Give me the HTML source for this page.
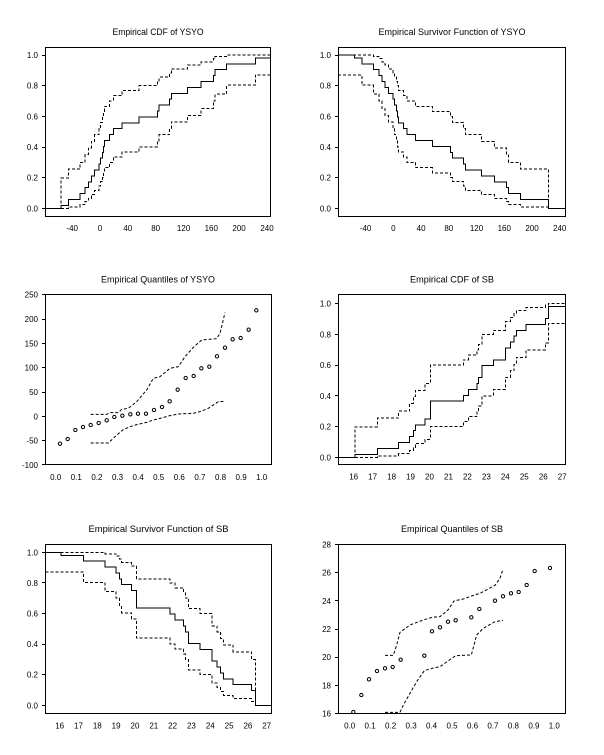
<!DOCTYPE html>
<html><head><meta charset="utf-8"><style>
html,body{margin:0;padding:0;background:#fff;}
svg{display:block;}
text{font-family:"Liberation Sans",Arial,sans-serif;fill:#000;}
.t{font-size:9px;text-anchor:middle;}
.yl{font-size:8px;text-anchor:end;}
.xl{font-size:8px;text-anchor:middle;}
.fr{fill:none;stroke:#000;stroke-width:1;shape-rendering:crispEdges;}
.tk{stroke:#000;stroke-width:1;shape-rendering:crispEdges;}
.s{fill:none;stroke:#000;stroke-width:3;shape-rendering:crispEdges;}
.d{fill:none;stroke:#000;stroke-width:3;stroke-dasharray:9 6;shape-rendering:crispEdges;}
.q{fill:none;stroke:#000;stroke-width:3;stroke-dasharray:9 6;}
.m{fill:none;stroke:#000;stroke-width:3;}
</style></head><body>
<svg width="604" height="755" viewBox="0 0 604 755" xmlns="http://www.w3.org/2000/svg">
<rect width="604" height="755" fill="#fff"/>

<!-- ============ Panel 1: Empirical CDF of YSYO ============ -->
<text class="t" x="158" y="35" textLength="91" lengthAdjust="spacingAndGlyphs">Empirical CDF of YSYO</text>
<g transform="translate(0,20) scale(0.333333)">
<path class="s" d="M137,565 H183 V556.2 H205 V538.5 H240 V520.8 H255 V503.1 H265 V485.4 H274 V467.7 H284 V450 H297 V432.3 H302 V414.6 H308 V396.9 H311 V379.2 H313 V361.5 H329 V343.8 H340 V326.2 H366 V308.5 H417 V290.8 H472 V273.1 H477 V255.4 H509 V237.7 H514 V220 H563 V202.3 H603 V184.6 H640 V166.9 H645 V149.2 H680 V131.5 H766 V113.8 H811"/>
<path class="d" d="M183,565 V474.4 H205 V447.7 H240 V427 H255 V404 H265 V383.3 H274 V364.4 H284 V344.2 H297 V325.8 H302 V307.4 H308 V289 H311 V273.8 H313 V259.1 H329 V243 H340 V226.9 H366 V211.7 H417 V197 H472 V185 H477 V171.7 H509 V158.8 H514 V146.4 H563 V134.9 H603 V125.7 H640 V116 H645 V109.6 H680 V105 H811"/>
<path class="d" d="M183,565 H205 V560.4 H240 V554 H255 V544.3 H265 V535.1 H274 V523.6 H284 V511.2 H297 V498.3 H302 V485 H308 V473 H311 V458.3 H313 V443.1 H329 V427 H340 V410.9 H366 V396.2 H417 V381 H472 V362.6 H477 V344.2 H509 V325.8 H514 V305.6 H563 V286.7 H603 V266 H640 V243 H645 V222.3 H680 V195.6 H766 V164.8 H811"/>
</g>
<rect class="fr" x="45.5" y="47.5" width="225" height="169"/>
<g class="tk">
<line x1="42" y1="208.5" x2="45.5" y2="208.5"/><line x1="42" y1="177.5" x2="45.5" y2="177.5"/><line x1="42" y1="147.5" x2="45.5" y2="147.5"/><line x1="42" y1="116.5" x2="45.5" y2="116.5"/><line x1="42" y1="85.5" x2="45.5" y2="85.5"/><line x1="42" y1="55.5" x2="45.5" y2="55.5"/>
</g>
<text class="yl" x="38" y="211.5">0.0</text><text class="yl" x="38" y="180.7">0.2</text><text class="yl" x="38" y="150">0.4</text><text class="yl" x="38" y="119.3">0.6</text><text class="yl" x="38" y="88.7">0.8</text><text class="yl" x="38" y="58">1.0</text>
<text class="xl" x="72.2" y="231">-40</text><text class="xl" x="100" y="231">0</text><text class="xl" x="127.8" y="231">40</text><text class="xl" x="155.7" y="231">80</text><text class="xl" x="183.5" y="231">120</text><text class="xl" x="211.3" y="231">160</text><text class="xl" x="239.1" y="231">200</text><text class="xl" x="267" y="231">240</text>

<!-- ============ Panel 2: Empirical Survivor Function of YSYO ============ -->
<text class="t" x="452" y="35" textLength="147" lengthAdjust="spacingAndGlyphs">Empirical Survivor Function of YSYO</text>
<g transform="translate(300,20) scale(0.333333)">
<path class="s" d="M114,105 H163 V113.8 H186 V131.5 H221 V149.2 H237 V166.9 H246 V184.6 H255 V202.3 H265 V220 H279 V237.7 H284 V255.4 H289 V273.1 H292 V290.8 H295 V308.5 H310 V326.2 H321 V343.8 H347 V361.5 H397 V379.2 H451 V396.9 H457 V414.6 H490 V432.3 H496 V450 H545 V467.7 H583 V485.4 H620 V503.1 H625 V520.8 H661 V538.5 H746 V565 H797"/>
<path class="d" d="M114,105 H221 V109.6 H237 V116 H246 V125.7 H255 V134.9 H265 V146.4 H279 V158.8 H284 V171.7 H289 V185 H292 V197 H295 V211.7 H310 V226.9 H321 V243 H347 V259.1 H397 V273.8 H451 V289 H457 V307.4 H490 V325.8 H496 V344.2 H545 V364.4 H583 V383.3 H620 V404 H625 V427 H661 V447.7 H746 V565 H797"/>
<path class="d" d="M114,164.8 H186 V195.6 H221 V222.3 H237 V243 H246 V266 H255 V286.7 H265 V305.6 H279 V325.8 H284 V344.2 H289 V362.6 H292 V381 H295 V396.2 H310 V410.9 H321 V427 H347 V443.1 H397 V458.3 H451 V473 H457 V485 H490 V498.3 H496 V511.2 H545 V523.6 H583 V535.1 H620 V544.3 H625 V554 H661 V560.4 H746 V565 H797"/>
</g>
<rect class="fr" x="338.5" y="47.5" width="227" height="169"/>
<g class="tk">
<line x1="335" y1="208.5" x2="338.5" y2="208.5"/><line x1="335" y1="177.5" x2="338.5" y2="177.5"/><line x1="335" y1="147.5" x2="338.5" y2="147.5"/><line x1="335" y1="116.5" x2="338.5" y2="116.5"/><line x1="335" y1="85.5" x2="338.5" y2="85.5"/><line x1="335" y1="55.5" x2="338.5" y2="55.5"/>
</g>
<text class="yl" x="331" y="211.5">0.0</text><text class="yl" x="331" y="180.7">0.2</text><text class="yl" x="331" y="150">0.4</text><text class="yl" x="331" y="119.3">0.6</text><text class="yl" x="331" y="88.7">0.8</text><text class="yl" x="331" y="58">1.0</text>
<text class="xl" x="365.6" y="231">-40</text><text class="xl" x="393.3" y="231">0</text><text class="xl" x="421.1" y="231">40</text><text class="xl" x="448.8" y="231">80</text><text class="xl" x="476.5" y="231">120</text><text class="xl" x="504.3" y="231">160</text><text class="xl" x="532" y="231">200</text><text class="xl" x="559.7" y="231">240</text>

<!-- ============ Panel 3: Empirical Quantiles of YSYO ============ -->
<text class="t" x="158" y="282.5" textLength="114" lengthAdjust="spacingAndGlyphs">Empirical Quantiles of YSYO</text>
<g transform="translate(0,260) scale(0.333333)">
<path class="q" d="M272,463 L320,463 L330,458 L355,458 L365,448 L385,445 L410,425 L440,390 L460,355 L480,350 L510,325 L535,320 L555,290 L580,262 L605,240 L650,236 L660,220 L675,158"/>
<path class="q" d="M272,549 L325,549 L345,530 L368,510 L390,500 L410,494 L440,487 L460,480 L480,475 L510,467 L535,462 L580,460 L600,455 L625,445 L655,425 L675,424"/>
<g class="m">
<circle cx="180" cy="551" r="5"/><circle cx="203" cy="537" r="5"/><circle cx="226" cy="510" r="5"/><circle cx="249" cy="501" r="5"/><circle cx="272" cy="495" r="5"/><circle cx="296" cy="489" r="5"/><circle cx="320" cy="481" r="5"/><circle cx="343" cy="471" r="5"/><circle cx="367" cy="467" r="5"/><circle cx="391" cy="463" r="5"/><circle cx="414" cy="461" r="5"/><circle cx="438" cy="461" r="5"/><circle cx="462" cy="450" r="5"/><circle cx="486" cy="441" r="5"/><circle cx="509" cy="424" r="5"/><circle cx="533" cy="389" r="5"/><circle cx="557" cy="354" r="5"/><circle cx="581" cy="348" r="5"/><circle cx="604" cy="325" r="5"/><circle cx="628" cy="320" r="5"/><circle cx="651" cy="289" r="5"/><circle cx="675" cy="263" r="5"/><circle cx="698" cy="238" r="5"/><circle cx="722" cy="234" r="5"/><circle cx="746" cy="209" r="5"/><circle cx="769" cy="151" r="5"/>
</g>
</g>
<rect class="fr" x="45.5" y="294.5" width="226" height="170"/>
<g class="tk">
<line x1="42" y1="294.5" x2="45.5" y2="294.5"/><line x1="42" y1="319.5" x2="45.5" y2="319.5"/><line x1="42" y1="343.5" x2="45.5" y2="343.5"/><line x1="42" y1="367.5" x2="45.5" y2="367.5"/><line x1="42" y1="392.5" x2="45.5" y2="392.5"/><line x1="42" y1="416.5" x2="45.5" y2="416.5"/><line x1="42" y1="440.5" x2="45.5" y2="440.5"/><line x1="42" y1="464.5" x2="45.5" y2="464.5"/>
</g>
<text class="yl" x="38" y="297.7">250</text><text class="yl" x="38" y="322">200</text><text class="yl" x="38" y="346.3">150</text><text class="yl" x="38" y="370.7">100</text><text class="yl" x="38" y="395">50</text><text class="yl" x="38" y="419.3">0</text><text class="yl" x="38" y="443.7">-50</text><text class="yl" x="38" y="468">-100</text>
<text class="xl" x="55.7" y="480">0.0</text><text class="xl" x="76.3" y="480">0.1</text><text class="xl" x="96.9" y="480">0.2</text><text class="xl" x="117.5" y="480">0.3</text><text class="xl" x="138.1" y="480">0.4</text><text class="xl" x="158.7" y="480">0.5</text><text class="xl" x="179.3" y="480">0.6</text><text class="xl" x="199.9" y="480">0.7</text><text class="xl" x="220.5" y="480">0.8</text><text class="xl" x="241.1" y="480">0.9</text><text class="xl" x="261.7" y="480">1.0</text>

<!-- ============ Panel 4: Empirical CDF of SB ============ -->
<text class="t" x="452" y="282.5" textLength="84" lengthAdjust="spacingAndGlyphs">Empirical CDF of SB</text>
<g transform="translate(300,260) scale(0.333333)">
<path class="s" d="M116,592 H165 V583.1 H232 V565.4 H296 V547.7 H329 V529.9 H340 V512.2 H346 V494.5 H375 V476.8 H391 V423.6 H490 V405.8 H505 V388.1 H531 V370.4 H536 V352.6 H546 V317.2 H580 V299.4 H616 V264 H631 V246.3 H642 V228.5 H649 V210.8 H678 V193.1 H736 V175.3 H745 V139.9 H797"/>
<path class="d" d="M165,592 V501.2 H232 V474.4 H296 V453.7 H329 V430.7 H340 V409.9 H346 V391 H375 V370.7 H391 V315.4 H490 V300.2 H505 V285.4 H531 V269.3 H536 V253.2 H546 V223.2 H580 V211.2 H616 V184.9 H631 V172.5 H642 V161 H649 V151.8 H678 V142.1 H736 V135.6 H745 V131 H797"/>
<path class="d" d="M165,592 H232 V587.4 H296 V580.9 H329 V571.3 H340 V562 H346 V550.5 H375 V538.1 H391 V499.8 H490 V485 H505 V469.8 H531 V453.7 H536 V437.6 H546 V407.6 H580 V389.2 H616 V352.3 H631 V332 H642 V313.1 H649 V292.4 H678 V269.3 H736 V248.6 H745 V190.9 H797"/>
</g>
<rect class="fr" x="338.5" y="294.5" width="227" height="170"/>
<g class="tk">
<line x1="335" y1="457.5" x2="338.5" y2="457.5"/><line x1="335" y1="426.5" x2="338.5" y2="426.5"/><line x1="335" y1="395.5" x2="338.5" y2="395.5"/><line x1="335" y1="365.5" x2="338.5" y2="365.5"/><line x1="335" y1="334.5" x2="338.5" y2="334.5"/><line x1="335" y1="303.5" x2="338.5" y2="303.5"/>
</g>
<text class="yl" x="331" y="460.3">0.0</text><text class="yl" x="331" y="429.6">0.2</text><text class="yl" x="331" y="398.9">0.4</text><text class="yl" x="331" y="368.1">0.6</text><text class="yl" x="331" y="337.4">0.8</text><text class="yl" x="331" y="306.7">1.0</text>
<text class="xl" x="353.7" y="479.5">16</text><text class="xl" x="372.6" y="479.5">17</text><text class="xl" x="391.6" y="479.5">18</text><text class="xl" x="410.5" y="479.5">19</text><text class="xl" x="429.5" y="479.5">20</text><text class="xl" x="448.5" y="479.5">21</text><text class="xl" x="467.4" y="479.5">22</text><text class="xl" x="486.4" y="479.5">23</text><text class="xl" x="505.3" y="479.5">24</text><text class="xl" x="524.3" y="479.5">25</text><text class="xl" x="543.3" y="479.5">26</text><text class="xl" x="562.2" y="479.5">27</text>

<!-- ============ Panel 5: Empirical Survivor Function of SB ============ -->
<text class="t" x="158.5" y="532" textLength="140" lengthAdjust="spacingAndGlyphs">Empirical Survivor Function of SB</text>
<g transform="translate(0,525) scale(0.333333)">
<path class="s" d="M136,82 H183 V90.8 H250 V108.5 H315 V126.1 H348 V143.8 H359 V161.4 H365 V179.1 H394 V196.8 H410 V249.7 H510 V267.4 H525 V285 H551 V302.7 H556 V320.3 H566 V355.6 H600 V373.3 H636 V408.6 H651 V426.3 H662 V443.9 H670 V461.6 H699 V479.2 H755 V496.9 H766 V541 H814"/>
<path class="d" d="M136,82 H315 V86.6 H348 V93 H359 V102.7 H365 V111.8 H394 V123.3 H410 V161.9 H510 V173.8 H525 V188.5 H551 V203.6 H556 V219.7 H566 V250.5 H600 V265.6 H636 V302.3 H651 V320.7 H662 V340.9 H670 V359.7 H699 V380.4 H755 V403.3 H766 V541 H814"/>
<path class="d" d="M136,141.7 H250 V172.4 H315 V199 H348 V219.7 H359 V242.7 H365 V263.3 H394 V282.1 H410 V339 H510 V357.4 H525 V372.5 H551 V387.2 H556 V403.3 H566 V434.5 H600 V449.2 H636 V474.4 H651 V487.3 H662 V499.7 H670 V511.2 H699 V520.3 H755 V530 H766 V541 H814"/>
</g>
<rect class="fr" x="45.5" y="544.5" width="226" height="169"/>
<g class="tk">
<line x1="42" y1="705.5" x2="45.5" y2="705.5"/><line x1="42" y1="674.5" x2="45.5" y2="674.5"/><line x1="42" y1="644.5" x2="45.5" y2="644.5"/><line x1="42" y1="613.5" x2="45.5" y2="613.5"/><line x1="42" y1="582.5" x2="45.5" y2="582.5"/><line x1="42" y1="552.5" x2="45.5" y2="552.5"/>
</g>
<text class="yl" x="38" y="708.3">0.0</text><text class="yl" x="38" y="677.7">0.2</text><text class="yl" x="38" y="647.1">0.4</text><text class="yl" x="38" y="616.5">0.6</text><text class="yl" x="38" y="585.9">0.8</text><text class="yl" x="38" y="555.3">1.0</text>
<text class="xl" x="59.7" y="728.5">16</text><text class="xl" x="78.5" y="728.5">17</text><text class="xl" x="97.3" y="728.5">18</text><text class="xl" x="116.1" y="728.5">19</text><text class="xl" x="135" y="728.5">20</text><text class="xl" x="153.8" y="728.5">21</text><text class="xl" x="172.6" y="728.5">22</text><text class="xl" x="191.4" y="728.5">23</text><text class="xl" x="210.3" y="728.5">24</text><text class="xl" x="229.1" y="728.5">25</text><text class="xl" x="247.9" y="728.5">26</text><text class="xl" x="266.7" y="728.5">27</text>

<!-- ============ Panel 6: Empirical Quantiles of SB ============ -->
<text class="t" x="452" y="532" textLength="102" lengthAdjust="spacingAndGlyphs">Empirical Quantiles of SB</text>
<g transform="translate(300,525) scale(0.333333)">
<path class="q" d="M255,391 L280,391 L290,360 L300,322 L330,300 L370,285 L396,277 L420,275 L444,255 L462,228 L490,222 L514,213 L540,205 L585,181 L600,160 L609,132"/>
<path class="q" d="M255,562 L300,562 L310,540 L330,505 L350,470 L373,437 L396,430 L420,425 L444,408 L467,392 L514,390 L530,330 L550,310 L585,290 L609,286"/>
<g class="m">
<circle cx="160" cy="561" r="5"/><circle cx="184" cy="510" r="5"/><circle cx="207" cy="463" r="5"/><circle cx="231" cy="438" r="5"/><circle cx="255" cy="430" r="5"/><circle cx="278" cy="426" r="5"/><circle cx="302" cy="404" r="5"/><circle cx="373" cy="392" r="5"/><circle cx="396" cy="319" r="5"/><circle cx="420" cy="307" r="5"/><circle cx="444" cy="290" r="5"/><circle cx="467" cy="286" r="5"/><circle cx="514" cy="277" r="5"/><circle cx="538" cy="252" r="5"/><circle cx="585" cy="227" r="5"/><circle cx="609" cy="214" r="5"/><circle cx="633" cy="205" r="5"/><circle cx="656" cy="201" r="5"/><circle cx="680" cy="180" r="5"/><circle cx="704" cy="138" r="5"/><circle cx="750" cy="129" r="5"/>
</g>
</g>
<rect class="fr" x="338.5" y="544.5" width="227" height="169"/>
<g class="tk">
<line x1="335" y1="544.5" x2="338.5" y2="544.5"/><line x1="335" y1="572.5" x2="338.5" y2="572.5"/><line x1="335" y1="600.5" x2="338.5" y2="600.5"/><line x1="335" y1="629.5" x2="338.5" y2="629.5"/><line x1="335" y1="657.5" x2="338.5" y2="657.5"/><line x1="335" y1="685.5" x2="338.5" y2="685.5"/><line x1="335" y1="713.5" x2="338.5" y2="713.5"/>
</g>
<text class="yl" x="331" y="547.3">28</text><text class="yl" x="331" y="575.5">26</text><text class="yl" x="331" y="603.8">24</text><text class="yl" x="331" y="632">22</text><text class="yl" x="331" y="660.2">20</text><text class="yl" x="331" y="688.4">18</text><text class="yl" x="331" y="716.7">16</text>
<text class="xl" x="349.7" y="728.5">0.0</text><text class="xl" x="370.1" y="728.5">0.1</text><text class="xl" x="390.6" y="728.5">0.2</text><text class="xl" x="411.1" y="728.5">0.3</text><text class="xl" x="431.5" y="728.5">0.4</text><text class="xl" x="452" y="728.5">0.5</text><text class="xl" x="472.5" y="728.5">0.6</text><text class="xl" x="492.9" y="728.5">0.7</text><text class="xl" x="513.4" y="728.5">0.8</text><text class="xl" x="533.9" y="728.5">0.9</text><text class="xl" x="554.3" y="728.5">1.0</text>
</svg>
</body></html>
